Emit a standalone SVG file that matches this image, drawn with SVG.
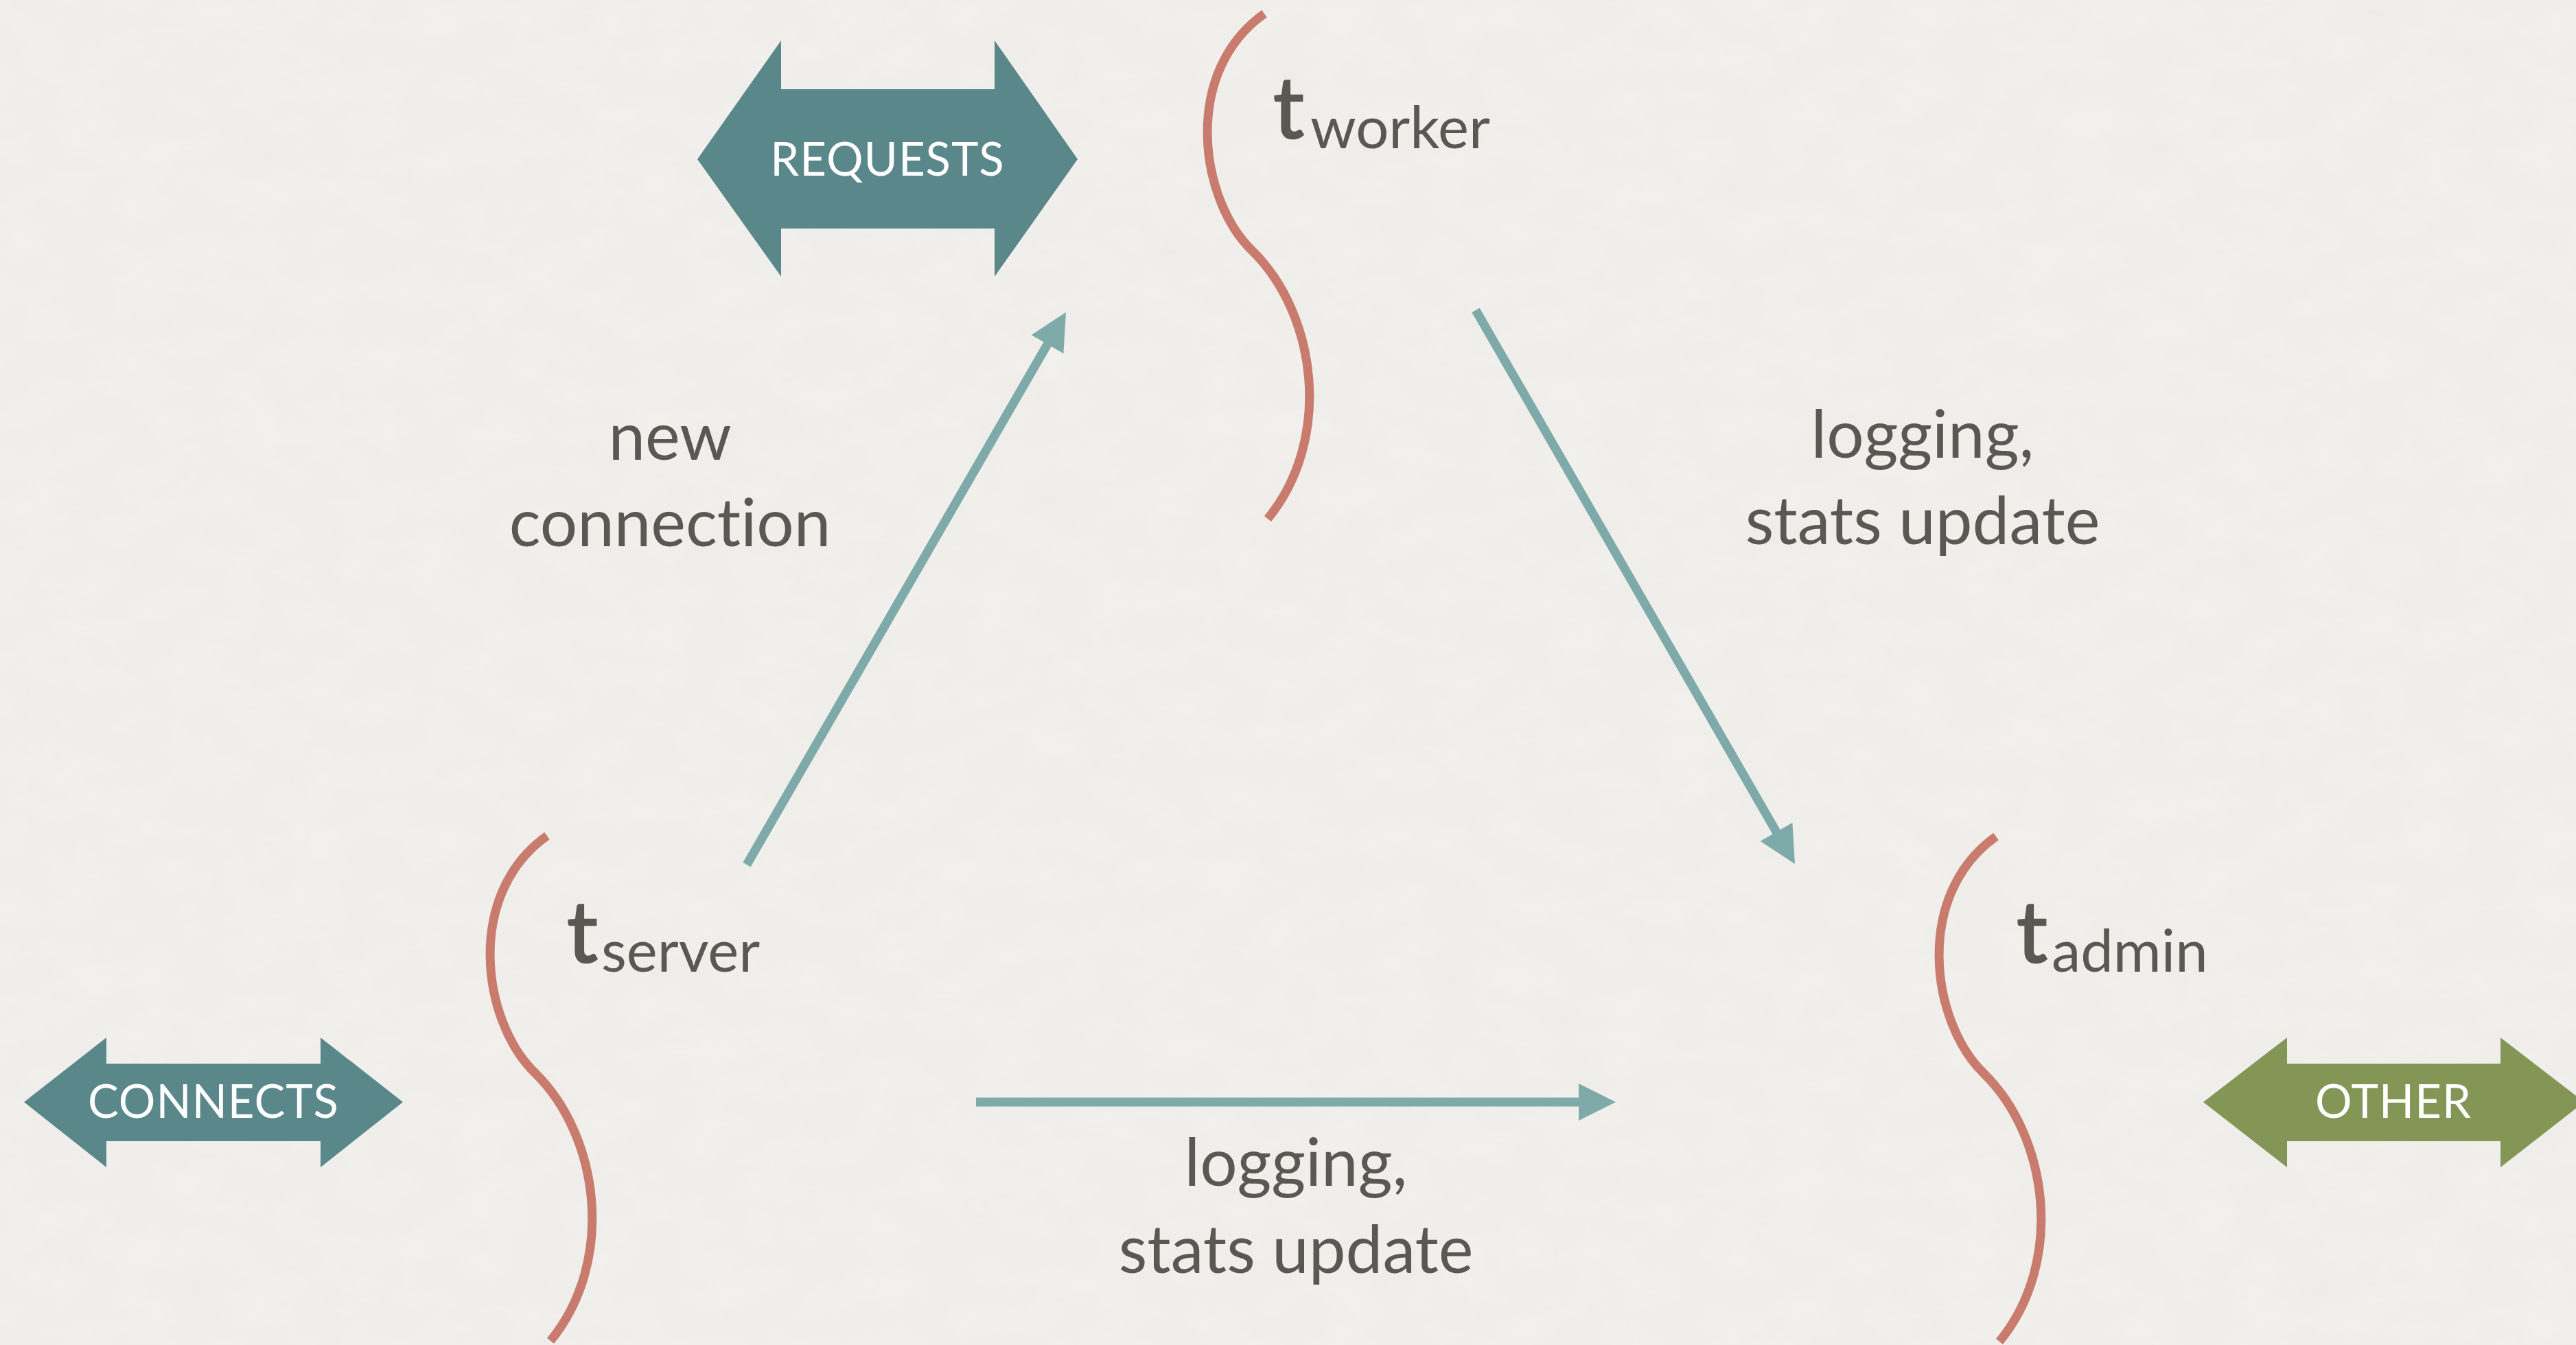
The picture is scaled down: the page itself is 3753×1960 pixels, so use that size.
<svg xmlns="http://www.w3.org/2000/svg" width="3753" height="1960" viewBox="0 0 3753 1960">
  <defs>
    <style>
      text { font-variant-ligatures: none; font-feature-settings: "liga" 0, "dlig" 0; }
      .paper { fill: #f2f1ed; }
      .band-teal { fill: #5a878a; }
      .band-olive { fill: #849656; }
      .band-label { font-family: Lato, "Liberation Sans", sans-serif; font-size: 67px; fill: #ffffff; text-anchor: middle; letter-spacing: 1px; }
      .thread { fill: none; stroke: #c97c6e; stroke-width: 13; stroke-linecap: butt; }
      .tmain { font-family: Lato, "Liberation Sans", sans-serif; font-size: 125px; fill: #5b5752; }
      .tlead { stroke: #5b5752; stroke-width: 2.5; }
      .tsub { font-size: 85px; stroke: none; }
      .flow { stroke: #7eaaa9; stroke-width: 13; fill: none; stroke-linecap: butt; marker-end: url(#head); }
      .note { font-family: Lato, "Liberation Sans", sans-serif; font-size: 96px; fill: #5b5752; text-anchor: middle; }
    </style>
    <marker id="head" viewBox="0 0 54 54" markerWidth="54" markerHeight="54" markerUnits="userSpaceOnUse" refX="2" refY="27" orient="auto">
      <path d="M0,0 L54,27 L0,54 Z" fill="#7eaaa9"/>
    </marker>
    <!-- wavy thread drawn from its top end -->
    <path id="wave" class="thread" d="M0,0 C-120,85 -95,270 -18,345 C77,438 100,620 5,736"/>
    <filter id="grain" x="0" y="0" width="100%" height="100%">
      <feTurbulence type="fractalNoise" baseFrequency="0.012 0.02" numOctaves="3" seed="7"/>
      <feColorMatrix type="matrix" values="0 0 0 0 0.45  0 0 0 0 0.44  0 0 0 0 0.42  0 0 0 0.08 0"/>
    </filter>
  </defs>

  <!-- paper -->
  <rect class="paper" x="0" y="0" width="3753" height="1960"/>
  <rect x="0" y="0" width="3753" height="1960" filter="url(#grain)"/>

  <!-- connectors -->
  <g id="connectors">
    <line class="flow" x1="1088" y1="1260" x2="1527" y2="500"/>
    <line class="flow" x1="2150" y1="452" x2="2589" y2="1214"/>
    <line class="flow" x1="1422" y1="1606" x2="2302" y2="1606"/>
    <text class="note" x="976" y="670">new</text>
    <text class="note" x="976" y="796">connection</text>
    <text class="note" x="2801" y="667">logging,</text>
    <text class="note" x="2801" y="793">stats update</text>
    <text class="note" x="1888" y="1728">logging,</text>
    <text class="note" x="1888" y="1855">stats update</text>
  </g>

  <!-- traffic bands -->
  <g id="requests">
    <polygon class="band-teal" points="1016,232 1138,59 1138,130 1449,130 1449,59 1570,232 1449,403 1449,333 1138,333 1138,403"/>
    <text class="band-label" x="1293" y="256">REQUESTS</text>
  </g>
  <g id="connects">
    <polygon class="band-teal" points="35,1606 155,1512 155,1550 467,1550 467,1512 587,1606 467,1701 467,1663 155,1663 155,1701"/>
    <text class="band-label" x="311" y="1629">CONNECTS</text>
  </g>
  <g id="other">
    <polygon class="band-olive" points="3210,1606 3332,1512 3332,1550 3643,1550 3643,1512 3765,1606 3643,1701 3643,1663 3332,1663 3332,1701"/>
    <text class="band-label" x="3487" y="1629">OTHER</text>
  </g>

  <!-- threads -->
  <g id="t-worker">
    <use href="#wave" x="1842" y="20"/>
    <text class="tmain" x="1855" y="201"><tspan class="tlead">t</tspan><tspan class="tsub" x="1909" y="216">worker</tspan></text>
  </g>
  <g id="t-server">
    <use href="#wave" x="797" y="1218"/>
    <text class="tmain" x="826" y="1402"><tspan class="tlead">t</tspan><tspan class="tsub" x="876" y="1416">server</tspan></text>
  </g>
  <g id="t-admin">
    <use href="#wave" x="2908" y="1219"/>
    <text class="tmain" x="2938" y="1402"><tspan class="tlead">t</tspan><tspan class="tsub" x="2989" y="1416">admin</tspan></text>
  </g>
</svg>
